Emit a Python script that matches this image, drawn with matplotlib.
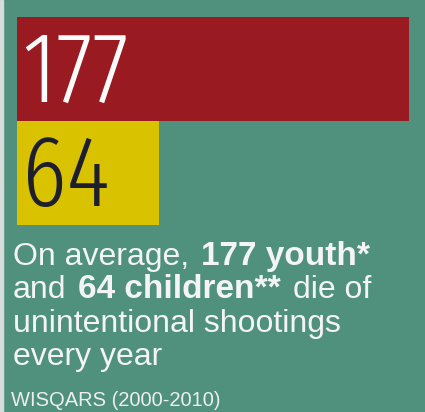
import matplotlib
matplotlib.use("Agg")
import matplotlib.pyplot as plt
from matplotlib.patches import Rectangle

# ---------------------------------------------------------
# data
# ---------------------------------------------------------
groups = ["youth", "children"]
deaths = [177, 64]
bar_colors = ["#9a1a21", "#d9c300"]
number_colors = ["#fbfbfb", "#1d1f2e"]

# each line: (text, weight) runs, a space goes between runs
headline = [
    [("On average,", "normal"), ("177 youth*", "bold")],
    [("and", "normal"), ("64 children**", "bold"), ("die of", "normal")],
    [("unintentional shootings", "normal")],
    [("every year", "normal")],
]
source = "WISQARS (2000-2010)"

# ---------------------------------------------------------
# figure
# ---------------------------------------------------------
BG = "#4f917d"
W, H = 425, 412
BIG_FONT = ["Fira Sans Extra Condensed", "Roboto Condensed", "DejaVu Sans"]
BODY_FONT = ["Liberation Sans", "DejaVu Sans"]

fig = plt.figure(figsize=(W / 100, H / 100), dpi=100, facecolor=BG)
fig.patches.append(Rectangle((0, 0), 3 / W, 1, transform=fig.transFigure,
                             color="#d6dcd9", zorder=0))

# bars
ax = fig.add_axes([17 / W, 1 - 225 / H, 392 / W, 208 / H])
ax.barh(range(len(deaths)), deaths, height=1.0, color=bar_colors)
ax.set_xlim(0, max(deaths))
ax.set_ylim(len(deaths) - 0.5, -0.5)
ax.axis("off")

for i, (v, c) in enumerate(zip(deaths, number_colors)):
    ax.annotate(str(v), xy=(0, i), xytext=(5, -33), textcoords="offset pixels",
                fontsize=72, family=BIG_FONT, weight=300, color=c,
                ha="left", va="baseline")

# text block, pixel coords
tax = fig.add_axes([0, 0, 1, 1])
tax.set_xlim(0, W)
tax.set_ylim(H, 0)
tax.axis("off")

body_size = 23
sizes = {"normal": body_size, "bold": body_size + 1}
gap = 0.278 * body_size * 100 / 72 + 3
baselines = [265, 298, 332, 365]

for runs, y in zip(headline, baselines):
    txt, w = runs[0]
    prev = tax.text(13, y, txt, fontsize=sizes[w], family=BODY_FONT,
                    weight=w, color="#f4f4f4", ha="left", va="baseline")
    for txt, w in runs[1:]:
        prev = tax.annotate(txt, xy=(1, 0), xycoords=prev, xytext=(gap, 0),
                            textcoords="offset pixels", fontsize=sizes[w],
                            family=BODY_FONT, weight=w, color="#f4f4f4",
                            ha="left", va="bottom")

tax.text(11, 406, source, fontsize=14.5, family=BODY_FONT, color="#eeeeee",
         ha="left", va="baseline")

fig.savefig("out.png", dpi=100, facecolor=BG)
